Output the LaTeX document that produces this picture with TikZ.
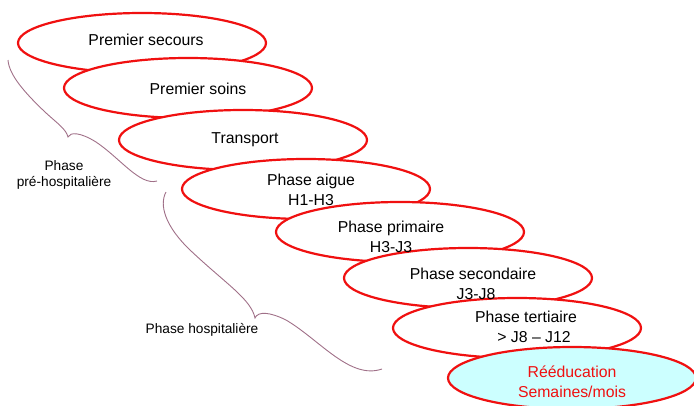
\documentclass[tikz,border=0pt]{standalone}
\usepackage{fontspec}
\setmainfont{Liberation Sans}
\definecolor{ered}{HTML}{F01010}
\definecolor{bracec}{HTML}{A07088}
\definecolor{lcyan}{HTML}{CCFFFF}
\begin{document}
\begin{tikzpicture}[x=1pt,y=-1pt,
  phase/.style={ellipse,draw=ered,line width=2.2pt,fill=white,minimum width=248pt,minimum height=60pt,inner sep=0pt},
  ptext/.style={font=\fontsize{15.8}{20}\selectfont,align=center,inner sep=0pt},
  btext/.style={font=\fontsize{13.7}{16.5}\selectfont,align=center,inner sep=0pt},
  bracel/.style={draw=bracec,line width=0.9pt}]
\usetikzlibrary{shapes.geometric}
\useasboundingbox (0,0) rectangle (694,405);
% ellipses
\node[phase] (e1) at (142,43) {};
\node[phase] (e2) at (188,88) {};
\node[phase] (e3) at (243,140) {};
\node[phase] (e4) at (306,189) {};
\node[phase] (e5) at (400,232) {};
\node[phase] (e6) at (468,278) {};
\node[phase] (e7) at (517,328) {};
\node[phase,fill=lcyan,minimum height=62pt] (e8) at (572,378) {};
% texts
\node[ptext] (t1) at (146,40) {Premier secours};
\node[ptext] (t2) at (198,89) {Premier soins};
\node[ptext] (t3) at (245,140) {Transport};
\node[ptext] (t4) at (311,190) {Phase aigue\\H1-H3};
\node[ptext] (t5) at (391,237) {Phase primaire\\\hspace*{0pt}H3-J3};
\node[ptext] (t6) at (473,284) {Phase secondaire\\\hspace*{6pt}J3-J8};
\node[ptext] (t7) at (526,327) {Phase tertiaire\\\hspace*{16pt}> J8 – J12};
\node[ptext,text=ered] (t8) at (572,382) {Rééducation\\Semaines/mois};
% braces
\coordinate (b1s) at (8,60);
\coordinate (b1c) at (68,137);
\coordinate (b1e) at (157,181);
\draw[bracel] (b1s) .. controls (9,75) and (25,93) .. (45,112)
  .. controls (58,124) and (66,129) .. (b1c)
  .. controls (70,132) and (80,132) .. (96,142)
  .. controls (120,158) and (140,186) .. (b1e);
\coordinate (b2s) at (166,192);
\coordinate (b2c) at (255,318);
\coordinate (b2e) at (382,369);
\draw[bracel] (b2s) .. controls (159,205) and (165,226) .. (190,250)
  .. controls (226,284) and (251,299) .. (b2c)
  .. controls (258,311) and (270,312) .. (286,320)
  .. controls (320,340) and (350,380) .. (b2e);
\node[btext] (l1) at (64,175) {Phase\\pré-hospitalière};
\node[btext] (l2) at (202,330) {Phase hospitalière};
\end{tikzpicture}
\end{document}
